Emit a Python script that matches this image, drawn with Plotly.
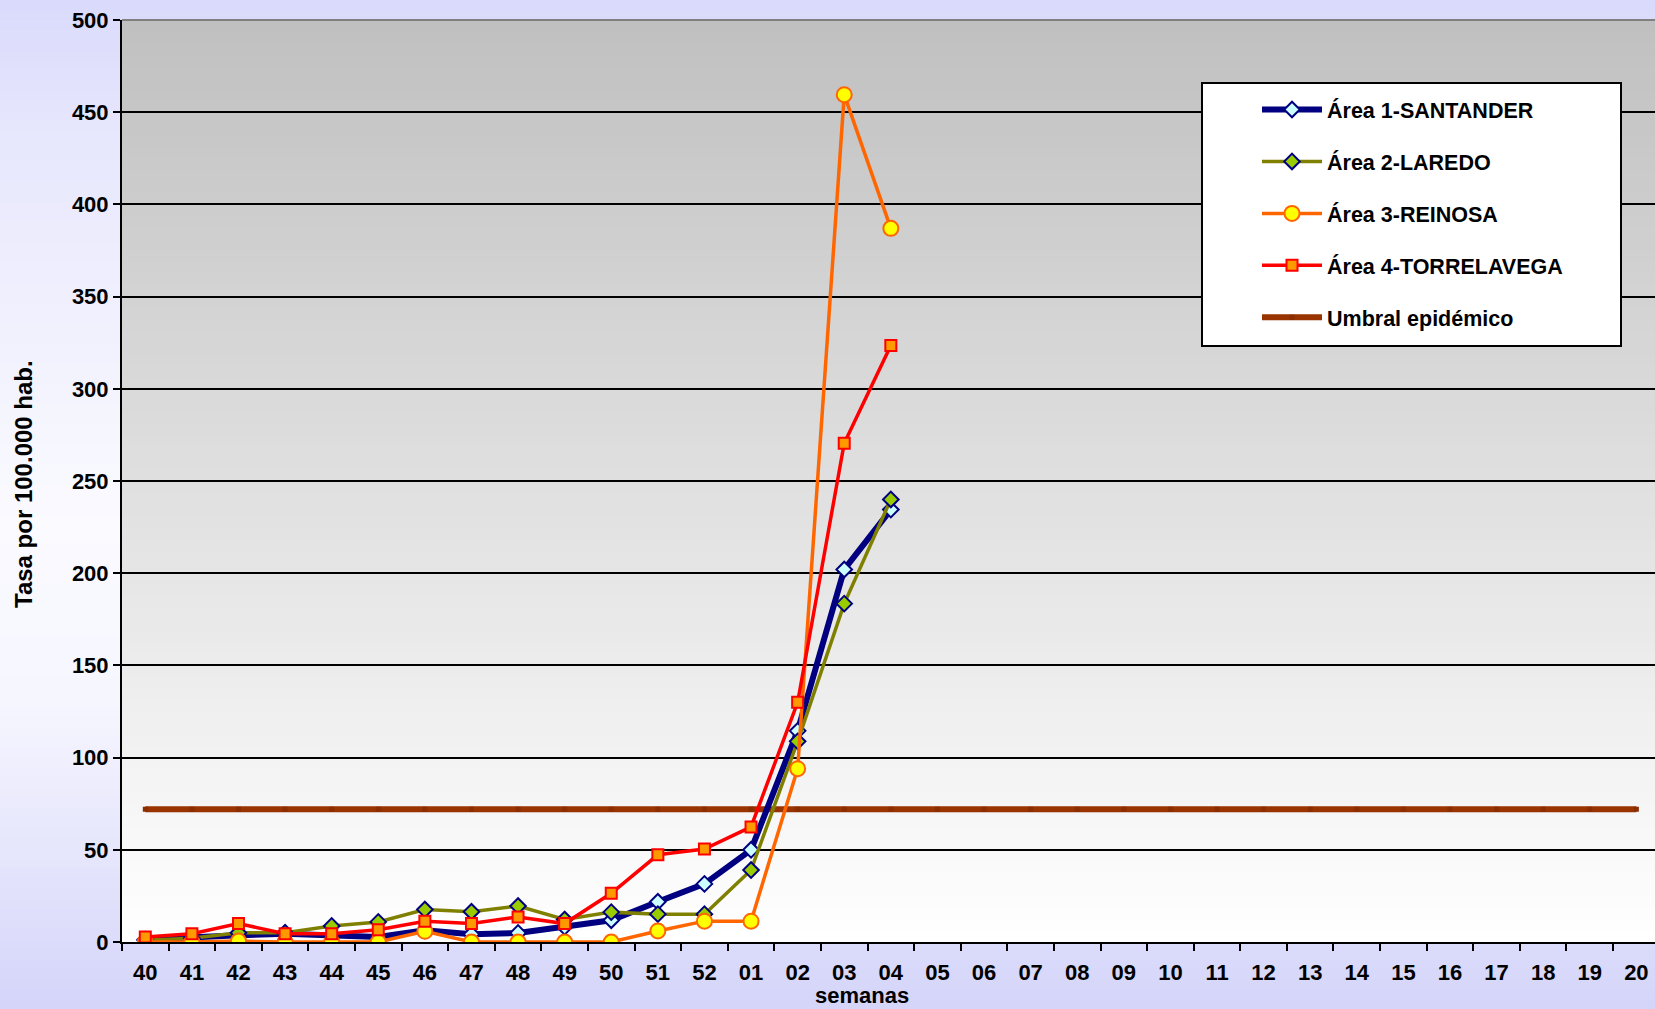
import plotly.graph_objects as go

# ---------------- data ----------------
semanas = ["40", "41", "42", "43", "44", "45", "46", "47", "48", "49", "50", "51", "52",
           "01", "02", "03", "04", "05", "06", "07", "08", "09", "10", "11", "12", "13",
           "14", "15", "16", "17", "18", "19", "20"]
semanas_datos = semanas[:17]

area1_santander = [1.3, 2.7, 3.6, 4.5, 3.3, 2.7, 6.4, 4.2, 4.9, 8.2, 11.8, 21.8, 31.5, 50.0, 114.5, 202.0, 234.5]
area2_laredo = [1.0, 2.0, 5.0, 5.0, 8.7, 10.9, 17.6, 16.4, 19.5, 12.2, 16.2, 15.1, 15.1, 39.0, 108.8, 183.5, 240.0]
area3_reinosa = [0.0, 0.0, 0.5, 0.0, 0.0, 0.0, 5.8, 0.0, 0.0, 0.0, 0.0, 6.0, 11.3, 11.3, 94.0, 459.5, 387.0]
area4_torrelavega = [2.7, 4.5, 10.0, 4.5, 4.5, 6.7, 11.3, 10.0, 13.6, 10.0, 26.4, 47.3, 50.4, 62.4, 130.0, 270.5, 323.5]
umbral_epidemico = [72.0] * len(semanas)

y_ticks = [0, 50, 100, 150, 200, 250, 300, 350, 400, 450, 500]

# ---------------- layout geometry ----------------
W, H = 1655, 1009
ML, MR, MT, MB = 122, 0, 20, 67
PW, PH = W - ML - MR, H - MT - MB

FONT = "Liberation Sans, Arial, sans-serif"


def px_x(px):
    return (px - ML) / PW


def px_y(py):
    return (H - MB - py) / PH


def lerp(c1, c2, t):
    return tuple(round(a + (b - a) * t) for a, b in zip(c1, c2))


shapes = []

# paper background gradient (lavender - white - lavender, vertical)
stops = [(0, (218, 218, 252)), (150, (232, 232, 253)), (520, (250, 250, 255)),
         (700, (246, 246, 255)), (850, (230, 230, 252)), (1009, (212, 212, 250))]
n_bands = 100
for i in range(n_bands):
    y0 = H * i / n_bands
    y1 = H * (i + 1) / n_bands
    ym = (y0 + y1) / 2
    for k in range(len(stops) - 1):
        if stops[k][0] <= ym <= stops[k + 1][0]:
            t = (ym - stops[k][0]) / (stops[k + 1][0] - stops[k][0])
            c = lerp(stops[k][1], stops[k + 1][1], t)
            break
    shapes.append(dict(type="rect", xref="paper", yref="paper", layer="below",
                       x0=px_x(-5), x1=px_x(W + 5), y0=px_y(y1 + 0.6), y1=px_y(y0),
                       fillcolor="rgb(%d,%d,%d)" % c, line=dict(width=0)))

# plot area gradient (gray top -> white bottom)
n_pb = 80
for i in range(n_pb):
    t0 = i / n_pb
    t1 = (i + 1) / n_pb
    c = lerp((255, 255, 255), (192, 192, 192), (t0 + t1) / 2)
    shapes.append(dict(type="rect", xref="paper", yref="paper", layer="below",
                       x0=0, x1=1, y0=t0, y1=min(1, t1 + 0.002),
                       fillcolor="rgb(%d,%d,%d)" % c, line=dict(width=0)))

# top border of plot area
shapes.append(dict(type="line", xref="paper", yref="paper", layer="above",
                   x0=0, x1=1, y0=1, y1=1, line=dict(color="#808080", width=2)))

# legend box
shapes.append(dict(type="rect", xref="paper", yref="paper", layer="above",
                   x0=px_x(1202), x1=px_x(1621), y0=px_y(346), y1=px_y(83),
                   fillcolor="white", line=dict(color="black", width=2)))

fig = go.Figure()

fig.add_trace(go.Scatter(
    x=semanas, y=umbral_epidemico, name="Umbral epidémico", mode="lines+markers",
    line=dict(color="#993300", width=6), marker=dict(symbol="square", size=5, color="#8a2e00"),
    legendgroup="g5", legendrank=5))

fig.add_trace(go.Scatter(
    x=semanas_datos, y=area1_santander, name="Área 1-SANTANDER", mode="lines+markers",
    line=dict(color="#000080", width=6),
    marker=dict(symbol="diamond", size=12, color="#ccffff", line=dict(color="#000080", width=2)),
    legendgroup="g1", legendrank=1))

fig.add_trace(go.Scatter(
    x=semanas_datos, y=area2_laredo, name="Área 2-LAREDO", mode="lines+markers",
    line=dict(color="#808000", width=3.5),
    marker=dict(symbol="diamond", size=12, color="#99cc00", line=dict(color="#000080", width=2)),
    legendgroup="g2", legendrank=2))

fig.add_trace(go.Scatter(
    x=semanas_datos, y=area3_reinosa, name="Área 3-REINOSA", mode="lines+markers",
    line=dict(color="#ff6600", width=3.5),
    marker=dict(symbol="circle", size=15, color="#ffff00", line=dict(color="#ff6600", width=2)),
    legendgroup="g3", legendrank=3))

fig.add_trace(go.Scatter(
    x=semanas_datos, y=area4_torrelavega, name="Área 4-TORRELAVEGA", mode="lines+markers",
    line=dict(color="#ff0000", width=3.5),
    marker=dict(symbol="square", size=11, color="#ff9900", line=dict(color="#ff0000", width=2)),
    legendgroup="g4", legendrank=4))

fig.update_layout(
    width=W, height=H,
    margin=dict(l=ML, r=MR, t=MT, b=MB, pad=0),
    paper_bgcolor="rgb(240,240,254)",
    plot_bgcolor="rgba(0,0,0,0)",
    font=dict(family=FONT, size=22, color="black", weight="bold"),
    shapes=shapes,
    showlegend=True,
    legend=dict(
        x=px_x(1257), y=px_y(89), xanchor="left", yanchor="top",
        bgcolor="rgba(0,0,0,0)", borderwidth=0,
        font=dict(family=FONT, size=21.5, color="black", weight="bold"),
        traceorder="grouped", tracegroupgap=21, itemwidth=60,
    ),
    xaxis=dict(
        type="category", categoryorder="array", categoryarray=semanas,
        range=[-0.5, 32.4], tickson="boundaries",
        showgrid=False, showline=True, linecolor="black", linewidth=2,
        ticks="outside", ticklen=7, tickwidth=2, tickcolor="black",
        tickfont=dict(family=FONT, size=22, color="black", weight="bold"),
        ticklabelstandoff=10, zeroline=False, fixedrange=True,
    ),
    yaxis=dict(
        range=[0, 500], tickvals=y_ticks,
        showgrid=True, gridcolor="black", gridwidth=1.6,
        showline=True, linecolor="black", linewidth=2,
        ticks="outside", ticklen=7, tickwidth=2, tickcolor="black",
        tickfont=dict(family=FONT, size=22, color="black", weight="bold"),
        ticklabelstandoff=0, zeroline=False, fixedrange=True,
    ),
    annotations=[
        dict(text="semanas", xref="paper", yref="paper", x=px_x(862), y=px_y(995),
             xanchor="center", yanchor="middle", showarrow=False, borderpad=0,
             font=dict(family=FONT, size=22, color="black", weight="bold")),
        dict(text="Tasa por 100.000 hab.", xref="paper", yref="paper", x=px_x(24), y=px_y(484),
             xanchor="center", yanchor="middle", showarrow=False, textangle=-90,
             font=dict(family=FONT, size=24, color="black", weight="bold")),
    ],
)

fig.write_html("out.html", config={"displayModeBar": False},
               post_script="document.body.style.margin='0';document.body.style.overflow='hidden';")
